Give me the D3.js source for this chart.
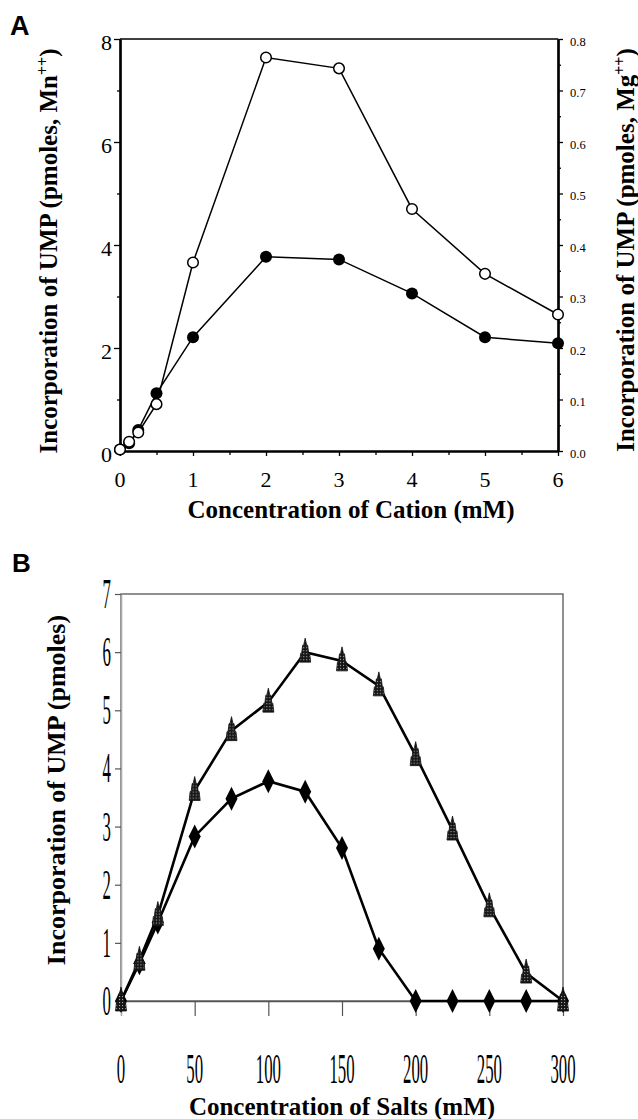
<!DOCTYPE html>
<html><head><meta charset="utf-8">
<script src="https://cdn.jsdelivr.net/npm/d3@7"></script>
<style>body{margin:0;background:#fff}svg{display:block}</style>
</head><body>
<script>
// Panel A data
const cationConc = [0, 0.125, 0.25, 0.5, 1, 2, 3, 4, 5, 6];
const mnValues = [0.03, 0.18, 0.36, 0.91, 3.66, 7.64, 7.43, 4.70, 3.44, 2.65];      // open circles, left axis
const mgValues = [0.003, 0.015, 0.041, 0.112, 0.221, 0.377, 0.372, 0.306, 0.221, 0.209]; // filled circles, right axis
const xTicksA = [0, 1, 2, 3, 4, 5, 6];
const xMinorA = [0.5, 1.5, 2.5, 3.5, 4.5, 5.5];
const yTicksALeft = [0, 2, 4, 6, 8];
const yMinorALeft = [1, 3, 5, 7];
const yTicksARight = [0, 0.1, 0.2, 0.3, 0.4, 0.5, 0.6, 0.7, 0.8];
const yMinorARight = [0.05, 0.15, 0.25, 0.35, 0.45, 0.55, 0.65, 0.75];

// Panel B data
const saltConc = [0, 12.5, 25, 50, 75, 100, 125, 150, 175, 200, 225, 250, 275, 300];
const triValues = [0, 0.7, 1.47, 3.62, 4.65, 5.14, 6.0, 5.85, 5.42, 4.22, 2.94, 1.62, 0.48, 0];
const diaValues = [0, 0.65, 1.35, 2.83, 3.48, 3.78, 3.6, 2.63, 0.9, 0, 0, 0, 0, 0];
const xTicksB = [0, 50, 100, 150, 200, 250, 300];
const yTicksB = [0, 1, 2, 3, 4, 5, 6, 7];

const W = 638, H = 1119;
const serif = "'Liberation Serif','Times New Roman',serif";
const sans = "'Liberation Sans',Arial,sans-serif";

const svg = d3.select("body").append("svg").attr("width", W).attr("height", H);
const defs = svg.append("defs");
const pat = defs.append("pattern").attr("id", "triPat").attr("width", 3).attr("height", 3)
  .attr("patternUnits", "userSpaceOnUse");
pat.append("rect").attr("width", 3).attr("height", 3).attr("fill", "#161616");
pat.append("rect").attr("x", 1).attr("y", 1).attr("width", 1.1).attr("height", 1.1).attr("fill", "#a8a8a8");

// ---------------- Panel A ----------------
const xA = d3.scaleLinear().domain([0, 6]).range([120, 558]);
const yAL = d3.scaleLinear().domain([0, 8]).range([451, 39]);
const yAR = d3.scaleLinear().domain([0, 0.8]).range([451, 39]);

const gA = svg.append("g");
svg.append("text").attr("x", 10).attr("y", 35).attr("font-family", sans).attr("font-weight", "bold")
  .attr("font-size", 27).text("A");

gA.append("line").attr("x1", xA(0)).attr("x2", xA(6)).attr("y1", yAL(8)).attr("y2", yAL(8))
  .attr("stroke", "#000").attr("stroke-width", 1.5);

function styleAxis(g, w) {
  g.select(".domain").attr("stroke", "#000").attr("stroke-width", w);
  g.selectAll(".tick line").attr("stroke", "#000").attr("stroke-width", 1.3);
}

const leftMaj = gA.append("g").attr("transform", `translate(${xA(0)},0)`)
  .call(d3.axisLeft(yAL).tickValues(yTicksALeft).tickSize(6).tickSizeOuter(0).tickFormat(""));
styleAxis(leftMaj, 2.2);
const leftMin = gA.append("g").attr("transform", `translate(${xA(0)},0)`)
  .call(d3.axisLeft(yAL).tickValues(yMinorALeft).tickSize(3).tickSizeOuter(0).tickFormat(""));
styleAxis(leftMin, 2.2);
gA.selectAll(".ylabA").data(yTicksALeft).join("text")
  .attr("x", 112).attr("y", d => yAL(d) + 11).attr("text-anchor", "end")
  .attr("font-family", serif).attr("font-size", 22).text(d => d);

const botMaj = gA.append("g").attr("transform", `translate(0,${yAL(0)})`)
  .call(d3.axisBottom(xA).tickValues(xTicksA).tickSize(5).tickSizeOuter(0).tickFormat(""));
styleAxis(botMaj, 2.2);
const botMin = gA.append("g").attr("transform", `translate(0,${yAL(0)})`)
  .call(d3.axisBottom(xA).tickValues(xMinorA).tickSize(4).tickSizeOuter(0).tickFormat(""));
styleAxis(botMin, 2.2);
gA.selectAll(".xlabA").data(xTicksA).join("text")
  .attr("x", d => xA(d)).attr("y", 487).attr("text-anchor", "middle")
  .attr("font-family", serif).attr("font-size", 22).text(d => d);

const rightMaj = gA.append("g").attr("transform", `translate(${xA(6)},0)`)
  .call(d3.axisRight(yAR).tickValues(yTicksARight).tickSize(5).tickSizeOuter(0).tickFormat(""));
styleAxis(rightMaj, 2.2);
const rightMin = gA.append("g").attr("transform", `translate(${xA(6)},0)`)
  .call(d3.axisRight(yAR).tickValues(yMinorARight).tickSize(3).tickSizeOuter(0).tickFormat(""));
styleAxis(rightMin, 2.2);
gA.selectAll(".rlabA").data(yTicksARight).join("text")
  .attr("x", 570).attr("y", d => yAR(d) + 6.5)
  .attr("font-family", serif).attr("font-size", 12.5).text(d => d3.format(".1f")(d));

const tL = gA.append("text").attr("transform", "translate(57,251) rotate(-90)")
  .attr("text-anchor", "middle").attr("font-family", serif).attr("font-weight", "bold").attr("font-size", 25);
tL.append("tspan").text("Incorporation of UMP (pmoles, Mn");
tL.append("tspan").attr("font-size", 16).attr("dy", -9).text("++");
tL.append("tspan").attr("dy", 9).text(")");

const tR = gA.append("text").attr("transform", "translate(634,250) rotate(-90)")
  .attr("text-anchor", "middle").attr("font-family", serif).attr("font-weight", "bold").attr("font-size", 25);
tR.append("tspan").text("Incorporation of UMP (pmoles, Mg");
tR.append("tspan").attr("font-size", 16).attr("dy", -9).text("++");
tR.append("tspan").attr("dy", 9).text(")");

gA.append("text").attr("x", 351).attr("y", 518).attr("text-anchor", "middle")
  .attr("font-family", serif).attr("font-weight", "bold").attr("font-size", 25)
  .text("Concentration of Cation (mM)");

const lineMn = d3.line().x((d, i) => xA(cationConc[i])).y(d => yAL(d));
const lineMg = d3.line().x((d, i) => xA(cationConc[i])).y(d => yAR(d));
gA.append("path").attr("d", lineMn(mnValues)).attr("fill", "none").attr("stroke", "#000").attr("stroke-width", 1.5);
gA.append("path").attr("d", lineMg(mgValues)).attr("fill", "none").attr("stroke", "#000").attr("stroke-width", 1.5);
gA.selectAll(".mg").data(mgValues).join("circle")
  .attr("cx", (d, i) => xA(cationConc[i])).attr("cy", d => yAR(d)).attr("r", 6).attr("fill", "#000");
gA.selectAll(".mn").data(mnValues).join("circle")
  .attr("cx", (d, i) => xA(cationConc[i])).attr("cy", d => yAL(d)).attr("r", 5.3)
  .attr("fill", "#fff").attr("stroke", "#000").attr("stroke-width", 1.5);

// ---------------- Panel B ----------------
const xB = d3.scaleLinear().domain([0, 300]).range([121, 563]);
const yB = d3.scaleLinear().domain([0, 7]).range([1001, 594]);
const gB = svg.append("g");
svg.append("text").attr("x", 12).attr("y", 572).attr("font-family", sans).attr("font-weight", "bold")
  .attr("font-size", 26).text("B");

const grey = "#555";
gB.append("rect").attr("x", xB(0)).attr("y", yB(7)).attr("width", xB(300) - xB(0)).attr("height", yB(0) - yB(7))
  .attr("fill", "none").attr("stroke", grey).attr("stroke-width", 1.3);

const leftB = gB.append("g").attr("transform", `translate(${xB(0)},0)`)
  .call(d3.axisLeft(yB).tickValues(yTicksB).tickSize(6).tickSizeOuter(0).tickFormat(""));
leftB.select(".domain").attr("stroke", "#aaa").attr("stroke-width", 1.6);
leftB.selectAll(".tick line").attr("stroke", grey).attr("stroke-width", 1.2);

const botB = gB.append("g").attr("transform", `translate(0,${yB(0)})`)
  .call(d3.axisBottom(xB).tickValues(xTicksB).tickSize(15).tickSizeOuter(0).tickFormat(""));
botB.select(".domain").attr("stroke", grey).attr("stroke-width", 1.3);
botB.selectAll(".tick line").attr("stroke", grey).attr("stroke-width", 1.2);
botB.selectAll(".tick line").filter(d => d === 0).attr("stroke", "#aaa").attr("stroke-width", 1.6);

gB.selectAll(".ylabB").data(yTicksB).join("text")
  .attr("transform", d => `translate(111,${yB(d) + 14}) scale(0.4,1)`)
  .attr("text-anchor", "end").attr("font-family", serif).attr("font-size", 42).text(d => d);
gB.selectAll(".xlabB").data(xTicksB).join("text")
  .attr("transform", d => `translate(${xB(d)},1083) scale(0.4,1)`)
  .attr("text-anchor", "middle").attr("font-family", serif).attr("font-size", 42).text(d => d);

gB.append("text").attr("transform", "translate(65,790) rotate(-90)")
  .attr("text-anchor", "middle").attr("font-family", serif).attr("font-weight", "bold").attr("font-size", 26)
  .text("Incorporation of UMP (pmoles)");
gB.append("text").attr("x", 342).attr("y", 1115).attr("text-anchor", "middle")
  .attr("font-family", serif).attr("font-weight", "bold").attr("font-size", 25)
  .text("Concentration of Salts (mM)");

const lineB = d3.line().x((d, i) => xB(saltConc[i])).y(d => yB(d));
gB.append("path").attr("d", lineB(diaValues)).attr("fill", "none").attr("stroke", "#000").attr("stroke-width", 2.6);
gB.append("path").attr("d", lineB(triValues)).attr("fill", "none").attr("stroke", "#000").attr("stroke-width", 2.6);

gB.selectAll(".dia").data(diaValues).join("path")
  .attr("transform", (d, i) => `translate(${xB(saltConc[i])},${yB(d)})`)
  .attr("d", "M0,-12L6,0L0,12L-6,0Z").attr("fill", "#000");
gB.selectAll(".tri").data(triValues).join("path")
  .attr("transform", (d, i) => `translate(${xB(saltConc[i])},${yB(d)})`)
  .attr("d", "M0,-14L1.5,-7L2.5,-7L3.5,1L4.5,1L5.5,10L-5.5,10L-4.5,1L-3.5,1L-2.5,-7L-1.5,-7Z")
  .attr("fill", "url(#triPat)").attr("stroke", "#111").attr("stroke-width", 0.8);
</script>
</body></html>
